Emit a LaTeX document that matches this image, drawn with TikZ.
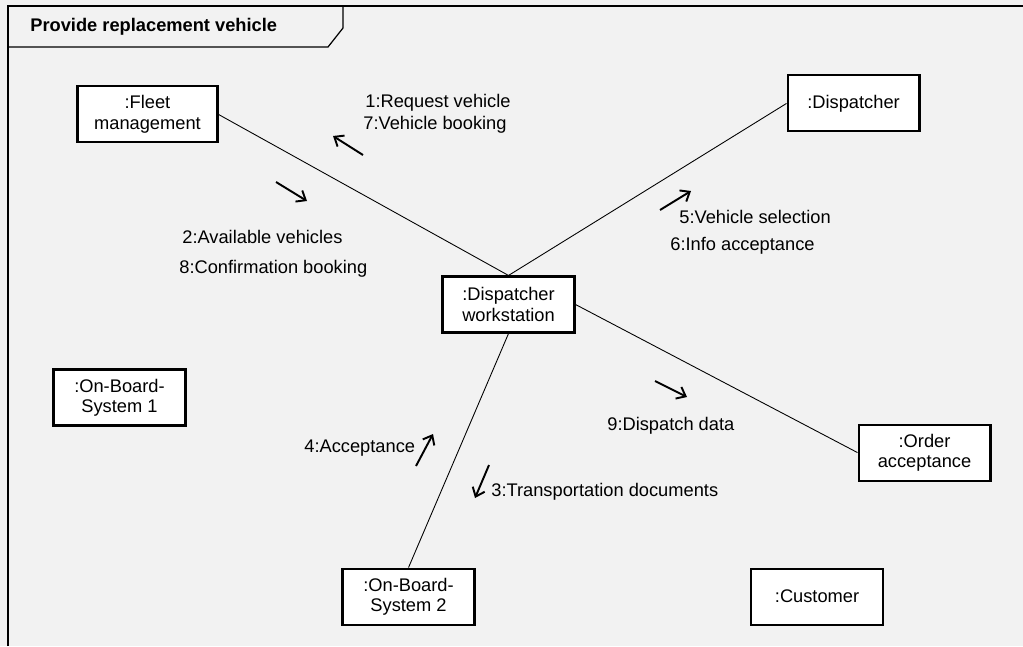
\documentclass[tikz,border=0pt]{standalone}
\usepackage{fontspec}
\setmainfont{Liberation Sans}
\usetikzlibrary{arrows.meta, positioning}
\definecolor{bgcol}{RGB}{242,242,242}

\begin{document}
\begin{tikzpicture}[
    x=0.02cm, y=-0.02cm,
    every node/.style={font=\fontsize{10.4}{11.6}\selectfont},
    obj/.style={draw, line width=1.2pt, fill=white, minimum width=2.64cm,
                minimum height=1.12cm, align=center, inner sep=1pt},
    link/.style={draw, line width=0.5pt},
    msg/.style={line width=1.1pt, -{Straight Barb[length=1.6mm, width=2.6mm]}},
    lbl/.style={anchor=base west, inner sep=0pt}
  ]

  \useasboundingbox[fill=bgcol] (0,0) rectangle (1023,646);

  % frame and title tab
  \draw[line width=0.7pt] (8,646) -- (8,6) -- (1023,6);
  \draw[line width=0.7pt] (8,47) -- (328,47) -- (343,28) -- (343,6);
  \node[lbl, font=\fontsize{10.4}{11.6}\selectfont\bfseries] (title) at (30,31)
    {Provide replacement vehicle};

  % objects
  \node[obj] (ws) at (508.5,304.5) {:Dispatcher\\workstation};
  \node[obj, minimum width=2.8cm, above left=2.64cm and 4.46cm of ws] (fleet)
    {:Fleet\\management};
  \node[obj, above right=2.86cm and 4.22cm of ws] (disp) {:Dispatcher};
  \node[obj, below right=1.8cm and 5.64cm of ws] (order) {:Order\\acceptance};
  \node[obj, below=4.68cm of ws, xshift=-2cm] (obs2) {:On-Board-\\System 2};
  \node[obj, below=1.72cm of order, xshift=-2.15cm] (cust) {:Customer};
  \node[obj, below=4.5cm of fleet, xshift=-0.56cm] (obs1) {:On-Board-\\System 1};

  % links
  \path[link] (fleet.east) -- (ws.north);
  \path[link] (disp.west) -- (ws.north);
  \path[link] (ws.east) -- (order.west);
  \path[link] (ws.south) -- (obs2.north);

  % messages
  \node[lbl] (m1) at (365,107) {1:Request vehicle};
  \node[lbl] (m7) at (363,129) {7:Vehicle booking};
  \node[lbl] (m2) at (182,243) {2:Available vehicles};
  \node[lbl] (m8) at (179,273) {8:Confirmation booking};
  \node[lbl] (m5) at (679,223) {5:Vehicle selection};
  \node[lbl] (m6) at (670,250) {6:Info acceptance};
  \node[lbl] (m9) at (607,430) {9:Dispatch data};
  \node[lbl] (m3) at (491,496) {3:Transportation documents};
  \node[lbl] (m4) at (304,452) {4:Acceptance};

  \coordinate (a1s) at (363,155); \coordinate (a1e) at (333,136);
  \coordinate (a2s) at (276,182); \coordinate (a2e) at (307,201);
  \coordinate (a5s) at (660,210); \coordinate (a5e) at (691,191);
  \coordinate (a9s) at (655,381); \coordinate (a9e) at (687,397);
  \coordinate (a4s) at (416,466); \coordinate (a4e) at (433,434);
  \coordinate (a3s) at (489,465); \coordinate (a3e) at (475,498);

  \draw[msg] (a1s) -- (a1e);
  \draw[msg] (a2s) -- (a2e);
  \draw[msg] (a5s) -- (a5e);
  \draw[msg] (a9s) -- (a9e);
  \draw[msg] (a4s) -- (a4e);
  \draw[msg] (a3s) -- (a3e);

\end{tikzpicture}
\end{document}
